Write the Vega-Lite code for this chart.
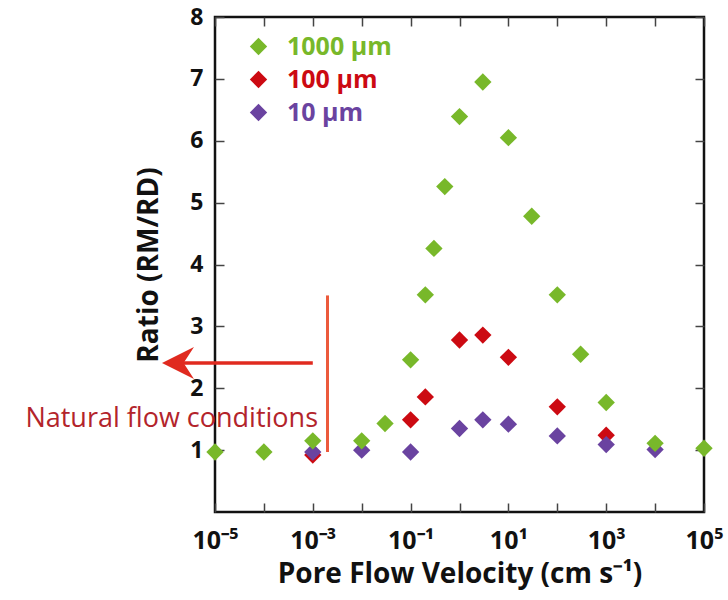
{
  "$schema": "https://vega.github.io/schema/vega-lite/v6.json",
  "autosize": {"type": "none"},
  "padding": {"left": 215, "top": 17, "right": 24, "bottom": 88},
  "width": 489,
  "height": 495,
  "background": "white",
  "config": {
    "view": {"stroke": "#111111", "strokeWidth": 2.5},
    "font": "Open Sans",
    "axis": {"grid": false, "domain": false, "tickColor": "#444444", "tickWidth": 1.5, "labelColor": "#111111", "titleColor": "#111111"}
  },
  "datasets": {
    "pts": [
      {"v": 0.001, "r": 0.92, "s": "100 μm"},
      {"v": 0.1, "r": 1.49, "s": "100 μm"},
      {"v": 0.2, "r": 1.86, "s": "100 μm"},
      {"v": 1, "r": 2.78, "s": "100 μm"},
      {"v": 3, "r": 2.86, "s": "100 μm"},
      {"v": 10, "r": 2.5, "s": "100 μm"},
      {"v": 100, "r": 1.7, "s": "100 μm"},
      {"v": 1000, "r": 1.24, "s": "100 μm"},
      {"v": 0.001, "r": 0.97, "s": "10 μm"},
      {"v": 0.01, "r": 1.0, "s": "10 μm"},
      {"v": 0.1, "r": 0.97, "s": "10 μm"},
      {"v": 1, "r": 1.35, "s": "10 μm"},
      {"v": 3, "r": 1.49, "s": "10 μm"},
      {"v": 10, "r": 1.42, "s": "10 μm"},
      {"v": 100, "r": 1.23, "s": "10 μm"},
      {"v": 1000, "r": 1.09, "s": "10 μm"},
      {"v": 10000, "r": 1.01, "s": "10 μm"},
      {"v": 0.00001, "r": 0.97, "s": "1000 μm"},
      {"v": 0.0001, "r": 0.97, "s": "1000 μm"},
      {"v": 0.001, "r": 1.15, "s": "1000 μm"},
      {"v": 0.01, "r": 1.15, "s": "1000 μm"},
      {"v": 0.03, "r": 1.43, "s": "1000 μm"},
      {"v": 0.1, "r": 2.46, "s": "1000 μm"},
      {"v": 0.2, "r": 3.51, "s": "1000 μm"},
      {"v": 0.3, "r": 4.26, "s": "1000 μm"},
      {"v": 0.5, "r": 5.26, "s": "1000 μm"},
      {"v": 1, "r": 6.39, "s": "1000 μm"},
      {"v": 3, "r": 6.95, "s": "1000 μm"},
      {"v": 10, "r": 6.05, "s": "1000 μm"},
      {"v": 30, "r": 4.78, "s": "1000 μm"},
      {"v": 100, "r": 3.51, "s": "1000 μm"},
      {"v": 300, "r": 2.55, "s": "1000 μm"},
      {"v": 1000, "r": 1.77, "s": "1000 μm"},
      {"v": 10000, "r": 1.11, "s": "1000 μm"},
      {"v": 100000, "r": 1.03, "s": "1000 μm"}
    ]
  },
  "layer": [
    {
      "data": {"name": "pts"},
      "mark": {"type": "point", "shape": "diamond", "filled": true, "size": 300, "opacity": 1, "clip": false},
      "encoding": {
        "x": {
          "field": "v", "type": "quantitative",
          "scale": {"type": "log", "domain": [0.00001, 100000], "nice": false},
          "axis": {
            "orient": "bottom",
            "values": [0.00001, 0.0001, 0.001, 0.01, 0.1, 1, 10, 100, 1000, 10000, 100000],
            "tickSize": -9,
            "labelPadding": 25,
            "labelFontSize": 25,
            "labelFontWeight": "bold",
            "labelFlush": false,
            "labelOverlap": false,
            "labelDx": -6,
            "labelExpr": "round(log(datum.value)/LN10) == -5 ? '10⁻⁵' : round(log(datum.value)/LN10) == -3 ? '10⁻³' : round(log(datum.value)/LN10) == -1 ? '10⁻¹' : round(log(datum.value)/LN10) == 1 ? '10¹' : round(log(datum.value)/LN10) == 3 ? '10³' : round(log(datum.value)/LN10) == 5 ? '10⁵' : ''",
            "title": "Pore Flow Velocity (cm s⁻¹)",
            "titleFontSize": 28,
            "titleFontWeight": "bold",
            "titlePadding": 7
          }
        },
        "y": {
          "field": "r", "type": "quantitative",
          "scale": {"domain": [0, 8], "nice": false, "zero": true},
          "axis": {
            "orient": "left",
            "values": [1, 2, 3, 4, 5, 6, 7, 8],
            "tickSize": -9,
            "labelPadding": 21,
            "labelFontSize": 23,
            "labelFontWeight": "bold",
            "labelFlush": false,
            "title": "Ratio (RM/RD)",
            "titleFontSize": 28,
            "titleFontWeight": "bold",
            "titlePadding": 26
          }
        },
        "color": {
          "field": "s", "type": "nominal",
          "scale": {"domain": ["1000 μm", "100 μm", "10 μm"], "range": ["#78b82a", "#cc0a12", "#6a43a0"]},
          "legend": {
            "orient": "none",
            "legendX": 31,
            "legendY": 17,
            "title": null,
            "padding": 0,
            "symbolType": "diamond",
            "symbolSize": 300,
            "symbolStrokeWidth": 0,
            "symbolOpacity": 1,
            "labelFontSize": 25,
            "labelFontWeight": "bold",
            "labelOffset": 16,
            "rowPadding": 7,
            "encode": {"labels": {"update": {"fill": {"scale": "color", "field": "value"}}}}
          }
        }
      }
    },
    {
      "data": {"name": "pts"},
      "mark": {"type": "point", "opacity": 0},
      "encoding": {
        "x": {
          "field": "v", "type": "quantitative",
          "axis": {"orient": "top", "values": [0.00001, 0.0001, 0.001, 0.01, 0.1, 1, 10, 100, 1000, 10000, 100000], "tickSize": -9, "labels": false, "title": null}
        },
        "y": {
          "field": "r", "type": "quantitative",
          "axis": {"orient": "right", "values": [1, 2, 3, 4, 5, 6, 7, 8], "tickSize": -9, "labels": false, "title": null}
        }
      }
    },
    {
      "data": {"values": [{"x": 0.002, "y": 0.97, "y2": 3.5}]},
      "mark": {"type": "rule", "color": "#ec5a3c", "strokeWidth": 3, "clip": false},
      "encoding": {
        "x": {"field": "x", "type": "quantitative", "axis": null},
        "y": {"field": "y", "type": "quantitative", "axis": null},
        "y2": {"field": "y2"}
      }
    },
    {
      "data": {"values": [{"x": 0.001, "x2": 0.000002, "y": 2.41}]},
      "mark": {"type": "rule", "color": "#e02a1f", "strokeWidth": 3.5, "clip": false},
      "encoding": {
        "x": {"field": "x", "type": "quantitative", "axis": null},
        "x2": {"field": "x2"},
        "y": {"field": "y", "type": "quantitative", "axis": null}
      }
    },
    {
      "data": {"values": [{"x": 0.00000175, "y": 2.41}]},
      "mark": {"type": "point", "shape": "M-1,0L1,-1L0.35,0L1,1Z", "filled": true, "size": 1024, "color": "#e02a1f", "opacity": 1, "clip": false},
      "encoding": {
        "x": {"field": "x", "type": "quantitative", "axis": null},
        "y": {"field": "y", "type": "quantitative", "axis": null}
      }
    },
    {
      "data": {"values": [{"x": 0.00128, "y": 1.5, "t": "Natural flow conditions"}]},
      "mark": {"type": "text", "align": "right", "baseline": "middle", "font": "Open Sans", "fontSize": 27, "color": "#b3242b", "clip": false},
      "encoding": {
        "x": {"field": "x", "type": "quantitative", "axis": null},
        "y": {"field": "y", "type": "quantitative", "axis": null},
        "text": {"field": "t"}
      }
    }
  ],
  "resolve": {"axis": {"x": "independent", "y": "independent"}}
}
